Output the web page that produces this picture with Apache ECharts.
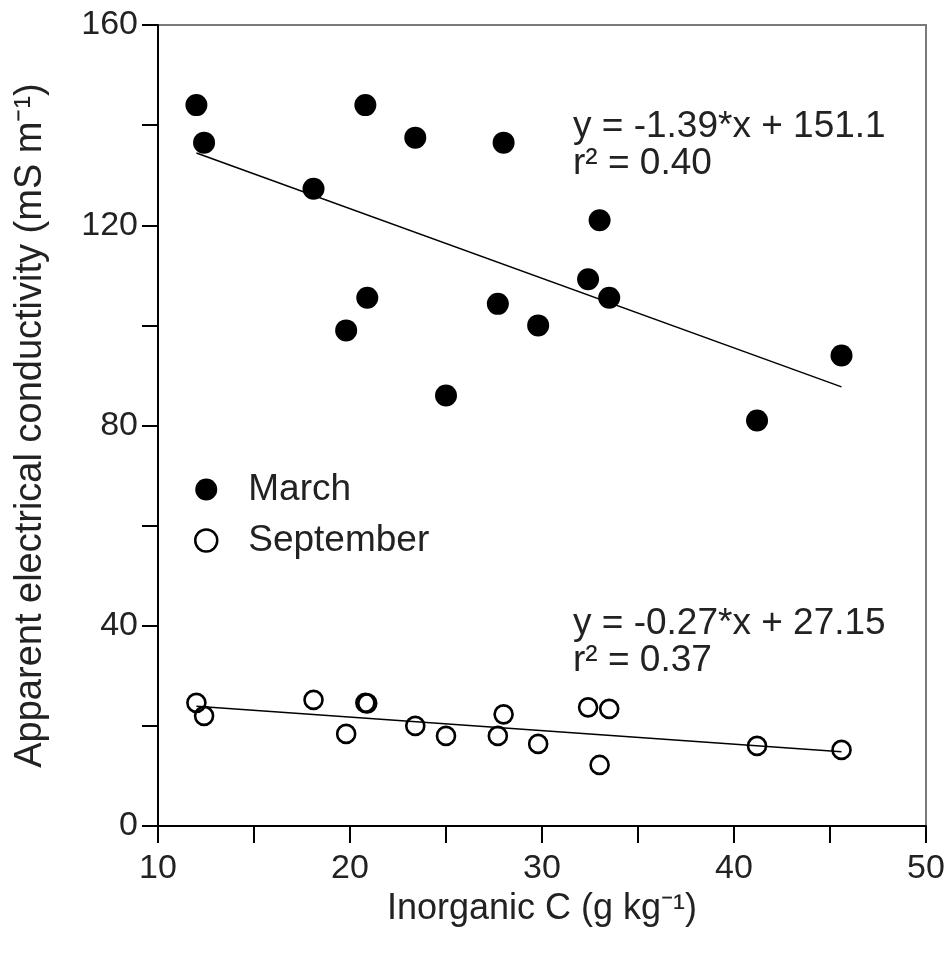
<!DOCTYPE html>
<html>
<head>
<meta charset="utf-8">
<script src="https://cdn.jsdelivr.net/npm/echarts@6/dist/echarts.min.js"></script>
<style>
html,body{margin:0;padding:0;background:#fff;}
#chart{width:950px;height:953px;}
</style>
</head>
<body>
<div id="chart"></div>
<script>
// Inorganic C (g kg-1) for each site (same sites in both months)
const inorganicC = [12.0, 12.4, 18.1, 20.8, 20.9, 19.8, 23.4, 25.0, 27.7, 28.0, 29.8, 32.4, 33.0, 33.5, 41.2, 45.6];
// Apparent electrical conductivity (mS m-1)
const marchEC = [144, 136.5, 127.3, 144, 105.5, 99, 137.5, 86, 104.3, 136.5, 100, 109.2, 121, 105.5, 81, 94];
const septemberEC = [24.6, 22, 25.2, 24.6, 24.5, 18.4, 20, 18, 18, 22.3, 16.4, 23.7, 12.2, 23.4, 16, 15.2];

const seriesNames = ['March', 'September'];
const slopes = [-1.39, -0.27];
const intercepts = [151.1, 27.15];
const r2 = ['0.40', '0.37'];

const xTicks = {min: 10, max: 50, interval: 5, labelStep: 10};
const yTicks = {min: 0, max: 160, interval: 20, labelStep: 40};

const FONT = 'Liberation Sans, Arial, sans-serif';
const TXT = '#222';

function pairs(xs, ys) { return xs.map((x, i) => [x, ys[i]]); }
const xMin = Math.min(...inorganicC), xMax = Math.max(...inorganicC);
function fitLine(k) {
  return [[xMin, slopes[k] * xMin + intercepts[k]], [xMax, slopes[k] * xMax + intercepts[k]]];
}

const chart = echarts.init(document.getElementById('chart'), null, {renderer: 'canvas'});

const option = {
  backgroundColor: '#fff',
  animation: false,
  grid: {left: 158, right: 24, top: 25, bottom: 127, show: true, borderColor: '#7a7a7a', borderWidth: 2, backgroundColor: 'transparent'},
  xAxis: {
    type: 'value', min: xTicks.min, max: xTicks.max, interval: xTicks.interval,
    name: 'Inorganic C (g kg\u207B\u00B9)', nameLocation: 'middle', nameGap: 64,
    nameTextStyle: {fontFamily: FONT, fontSize: 36, color: TXT},
    axisLine: {show: true, onZero: false, lineStyle: {color: '#000', width: 2}},
    axisTick: {show: true, inside: false, length: 17, lineStyle: {color: '#000', width: 2}},
    axisLabel: {margin: 26, fontFamily: FONT, fontSize: 34, color: TXT,
      formatter: v => (v % xTicks.labelStep === 0 ? String(v) : '')},
    splitLine: {show: false}
  },
  yAxis: {
    type: 'value', min: yTicks.min, max: yTicks.max, interval: yTicks.interval,
    name: 'Apparent electrical conductivity (mS m\u207B\u00B9)', nameLocation: 'middle', nameGap: 108,
    nameTextStyle: {fontFamily: FONT, fontSize: 38, color: TXT},
    axisLine: {show: true, onZero: false, lineStyle: {color: '#000', width: 2}},
    axisTick: {show: true, inside: false, length: 16, lineStyle: {color: '#000', width: 2}},
    axisLabel: {margin: 20, fontFamily: FONT, fontSize: 34, color: TXT,
      formatter: v => (v % yTicks.labelStep === 0 ? String(v) : '')},
    splitLine: {show: false}
  },
  legend: {
    orient: 'vertical', left: 189, top: 466, itemGap: 14, itemWidth: 22, itemHeight: 22,
    icon: 'circle',
    textStyle: {fontFamily: FONT, fontSize: 37, color: TXT, padding: [0, 0, 0, 26]},
    data: [
      {name: seriesNames[0], itemStyle: {color: '#000', borderColor: '#000', borderWidth: 0}},
      {name: seriesNames[1], itemStyle: {color: '#fff', borderColor: '#000', borderWidth: 2.5}}
    ]
  },
  series: [
    {
      name: 'fitMarch', type: 'line', data: fitLine(0), symbol: 'none', silent: true, z: 1,
      lineStyle: {color: '#000', width: 1.5}
    },
    {
      name: 'fitSeptember', type: 'line', data: fitLine(1), symbol: 'none', silent: true, z: 1,
      lineStyle: {color: '#000', width: 1.5}
    },
    {
      name: seriesNames[0], type: 'scatter', data: pairs(inorganicC, marchEC), symbol: 'circle', symbolSize: 22, z: 3,
      itemStyle: {color: '#000', opacity: 1}
    },
    {
      name: seriesNames[1], type: 'scatter', data: pairs(inorganicC, septemberEC), symbol: 'circle', symbolSize: 18, z: 3,
      itemStyle: {color: 'rgba(255,255,255,0)', borderColor: '#000', borderWidth: 2.6, opacity: 1}
    }
  ],
  graphic: [
    {
      type: 'text', left: 573, top: 108, z: 10,
      style: {
        text: 'y = ' + slopes[0].toFixed(2) + '*x + ' + intercepts[0].toFixed(1) + '\nr\u00B2 = ' + r2[0],
        font: '37px ' + FONT, fill: TXT, lineHeight: 37
      }
    },
    {
      type: 'text', left: 573, top: 605, z: 10,
      style: {
        text: 'y = ' + slopes[1].toFixed(2) + '*x + ' + intercepts[1].toFixed(2) + '\nr\u00B2 = ' + r2[1],
        font: '37px ' + FONT, fill: TXT, lineHeight: 37
      }
    }
  ]
};
chart.setOption(option);
</script>
</body>
</html>
